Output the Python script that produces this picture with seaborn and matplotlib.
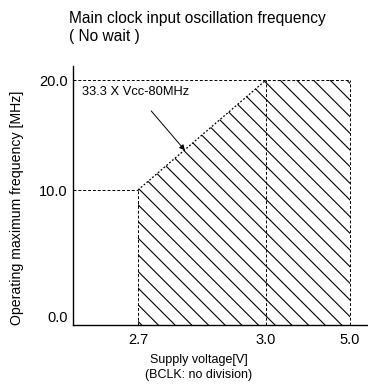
import numpy as np
import matplotlib
matplotlib.use("Agg")
import matplotlib.pyplot as plt
import seaborn as sns

# operating range boundary (supply voltage [V] -> max frequency [MHz])
vcc = [2.7, 3.0, 5.0]
fmax = [10.0, 20.0, 20.0]
x_ticks = [2.7, 3.0, 5.0]
x_tick_labels = ["2.7", "3.0", "5.0"]
y_ticks = [0.0, 10.0, 20.0]
y_tick_labels = ["0.0", "10.0", "20.0"]

sns.set_theme(style="white")
plt.rcParams['font.family'] = ['Liberation Sans', 'DejaVu Sans']
plt.rcParams['hatch.linewidth'] = 0.8
plt.rcParams['text.color'] = 'black'
plt.rcParams['axes.labelcolor'] = 'black'
plt.rcParams['xtick.color'] = 'black'
plt.rcParams['ytick.color'] = 'black'

fig = plt.figure(figsize=(3.68, 3.88), dpi=100)
ax = fig.add_axes([73 / 368, 1 - 325 / 388, 1 - 73 / 368, (325 - 66) / 388])

# the axes in the datasheet are not linear, so use piecewise scales
xb = [2.548, 2.7, 3.0, 5.0, 5.43]
xp = [73, 138, 266, 350, 368]
yb = [-0.714, 0.0, 10.0, 20.0, 21.27]
yp = [-325, -316, -190, -80, -66]
ax.set_xscale('function', functions=(lambda v: np.interp(v, xb, xp),
                                     lambda p: np.interp(p, xp, xb)))
ax.set_yscale('function', functions=(lambda v: np.interp(v, yb, yp),
                                     lambda p: np.interp(p, yp, yb)))
ax.set_xlim(xb[0], xb[-1])
ax.set_ylim(yb[0], yb[-1])

ymin = yb[0]
# hatched operating area
xs = np.concatenate([np.linspace(vcc[0], vcc[1], 50), [vcc[2]]])
ys = np.interp(xs, vcc, fmax)
ax.fill_between(xs, ymin, ys, facecolor="none", edgecolor="black",
                hatch="\\\\", linewidth=0)

# boundaries
sns.lineplot(x=vcc[:2], y=fmax[:2], ax=ax, color="black", lw=0.9,
             linestyle=(0, (1.5, 1.5)))
dash = (0, (3, 2))
ax.plot([xb[0], vcc[0]], [fmax[0], fmax[0]], color="black", lw=0.7, ls=dash)
ax.plot([xb[0], vcc[2]], [fmax[2], fmax[2]], color="black", lw=0.7, ls=dash)
for v, f in zip(vcc, fmax):
    ax.plot([v, v], [ymin, f], color="black", lw=0.7, ls=dash)

ax.annotate("33.3 X Vcc-80MHz", xy=(2.81, 13.6), xytext=(2.568, 18.9),
            fontsize=9.3, va="center", ha="left",
            arrowprops=dict(arrowstyle="-|>", color="black", lw=0.7,
                            mutation_scale=8, shrinkA=9, shrinkB=0))

ax.set_xticks(x_ticks)
ax.set_xticklabels(x_tick_labels, fontsize=10.5)
ax.set_yticks(y_ticks)
ax.set_yticklabels(y_tick_labels, fontsize=10.5)
ax.tick_params(axis="y", length=0, pad=4)
ax.tick_params(axis="x", length=0, pad=6)
ax.set_xticks([], minor=True)
ax.set_yticks([], minor=True)

sns.despine(ax=ax)
for s in ["left", "bottom"]:
    ax.spines[s].set_color("black")
    ax.spines[s].set_linewidth(1.0)

ax.set_ylabel("Operating maximum frequency [MHz]", fontsize=10.2)
ax.yaxis.set_label_coords(-(73 - 24) / (368 - 73), (325 - 208) / (325 - 66))
ax.set_xlabel("Supply voltage[V]\n(BCLK: no division)", fontsize=9,
              linespacing=1.35)
ax.xaxis.set_label_coords((199 - 73) / (368 - 73), -(354 - 325) / (325 - 66))
ax.xaxis.label.set_va("top")

fig.text(69 / 368, 1 - 11 / 388, "Main clock input oscillation frequency\n( No wait )",
         fontsize=11.2, ha="left", va="top", linespacing=1.25)

fig.savefig("out.png", dpi=100)
